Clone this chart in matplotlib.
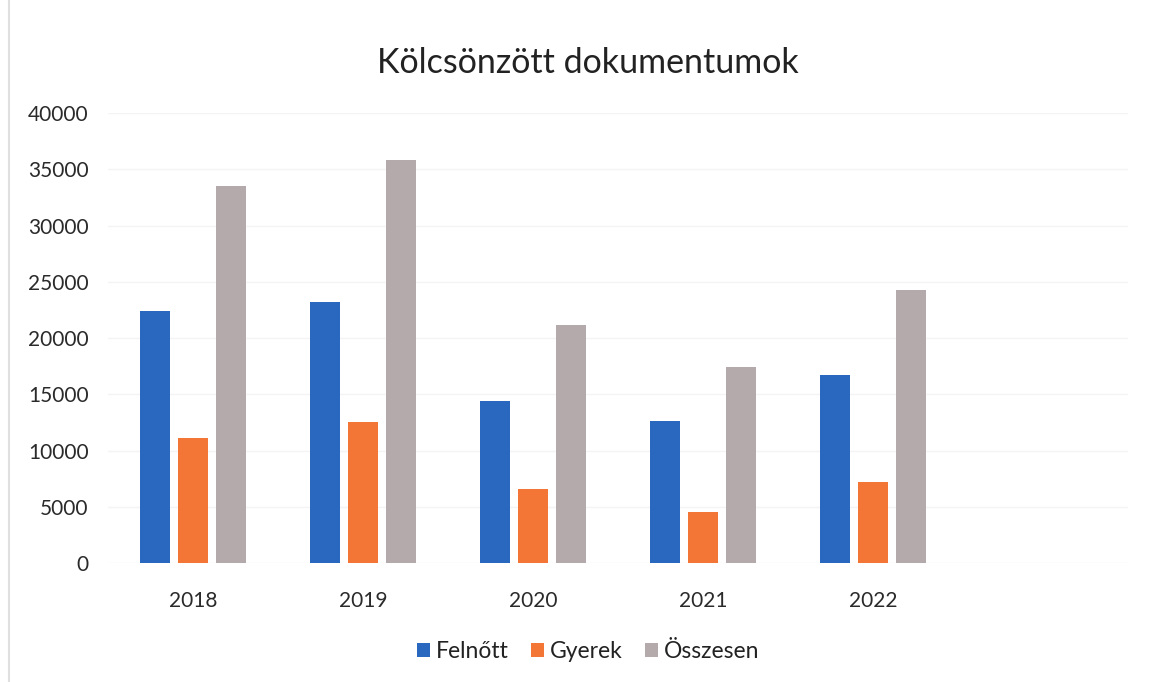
import matplotlib
matplotlib.use("Agg")
import matplotlib.pyplot as plt
import numpy as np

years = ["2018", "2019", "2020", "2021", "2022"]
felnott = [22400, 23200, 14400, 12600, 16700]
gyerek = [11100, 12500, 6550, 4550, 7200]
osszesen = [33500, 35800, 21200, 17400, 24300]
series_names = ["Felnőtt", "Gyerek", "Összesen"]
colors = ["#2a68bf", "#f47636", "#b5aaab"]

plt.rcParams['font.family'] = ['Lato', 'DejaVu Sans']

fig = plt.figure(figsize=(11.49, 6.82), dpi=100)
ax = fig.add_axes([0.094, 0.1745, 0.888, 0.6595])

x = np.arange(len(years))
w = 0.176
step = 0.224
for i, (vals, name, c) in enumerate(zip([felnott, gyerek, osszesen], series_names, colors)):
    ax.bar(x + (i - 1) * step, vals, width=w, color=c, label=name, zorder=3)

ax.set_xlim(-0.5, 5.5)
ax.set_ylim(0, 40000)
ax.set_yticks(range(0, 40001, 5000))
ax.set_xticks(x)
ax.set_xticklabels(years)
ax.grid(axis='y', color='#f4f4f4', linewidth=1, zorder=0)
for s in ax.spines.values():
    s.set_visible(False)
ax.tick_params(length=0, labelsize=15, colors='#2a2a2a')
ax.tick_params(axis='y', pad=14)
ax.tick_params(axis='x', pad=20)

fig.text(0.512, 0.908, "Kölcsönzött dokumentumok", ha='center', va='center',
         fontsize=24.5, color='#222222')

fig.legend(loc='center', bbox_to_anchor=(0.512, 0.045), ncol=3, frameon=False,
           fontsize=16.5, handlelength=0.55, handleheight=0.55, handletextpad=0.25,
           columnspacing=1.0, labelcolor='#222222')

fig.add_artist(plt.Line2D([0.008, 0.008], [0.0, 1.0], color='#e0e0e0', linewidth=1.5,
                          transform=fig.transFigure))

fig.savefig("out.png", dpi=100)
